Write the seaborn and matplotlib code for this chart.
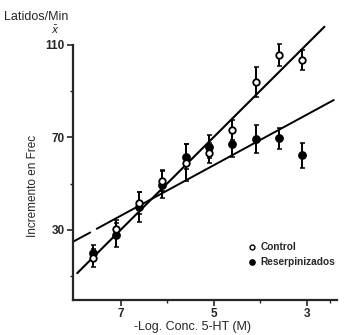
import numpy as np
import pandas as pd
import matplotlib
matplotlib.use("Agg")
import matplotlib.pyplot as plt
from matplotlib.lines import Line2D
import seaborn as sns

sns.set_style("ticks")
plt.rcParams['font.family'] = ['Liberation Sans', 'DejaVu Sans']

# -log concentration of 5-HT (M)
log_conc = [7.6, 7.1, 6.6, 6.1, 5.6, 5.1, 4.6, 4.1, 3.6, 3.1]

# mean increase in rate (beats/min) and error
control = [17.8, 30.3, 41.8, 51.3, 59.1, 63.2, 73.2, 94.1, 105.7, 103.5]
control_err = [4.0, 4.0, 4.8, 4.6, 8.0, 4.2, 4.4, 6.4, 4.8, 4.4]
reserp = [19.9, 27.8, 40.1, 49.5, 61.7, 66.0, 67.2, 69.2, 69.7, 62.4]
reserp_err = [3.5, 5.0, 6.5, 5.8, 5.5, 5.0, 5.5, 6.0, 4.6, 5.4]

# fitted lines (end points)
control_fit_x = [7.93, 2.62]
control_fit_y = [11.3, 117.9]
reserp_fit_x = [8.02, 7.65, np.nan, 7.51, 2.42]
reserp_fit_y = [24.9, 28.9, np.nan, 30.5, 86.2]

df = pd.DataFrame({
    "conc": log_conc * 2,
    "val": control + reserp,
    "err": control_err + reserp_err,
    "grupo": ["Control"] * len(log_conc) + ["Reserpinizados"] * len(log_conc),
})

fig = plt.figure(figsize=(3.47, 3.35), dpi=100)
ax = fig.add_axes([0.2104, 0.1045, 0.7608, 0.7612])

# fit lines
ax.plot(control_fit_x, control_fit_y, color="black", lw=1.5, clip_on=False, zorder=2)
ax.plot(reserp_fit_x, reserp_fit_y, color="black", lw=1.4, clip_on=False, zorder=2)

# error bars
for g, sub in df.groupby("grupo"):
    ax.errorbar(sub["conc"], sub["val"], yerr=sub["err"], fmt="none",
                ecolor="black", elinewidth=1.4, capsize=1.8, capthick=1.1,
                clip_on=False, zorder=3)

# points
sns.scatterplot(data=df[df.grupo == "Reserpinizados"], x="conc", y="val",
                color="black", edgecolor="black", s=28, linewidth=1.0,
                ax=ax, zorder=4, clip_on=False, legend=False)
sns.scatterplot(data=df[df.grupo == "Control"], x="conc", y="val",
                color="white", edgecolor="black", s=22, linewidth=1.3,
                ax=ax, zorder=5, clip_on=False, legend=False)

ax.set_xlim(8.02, 2.35)
ax.set_ylim(-0.3, 110)
ax.set_xticks([7, 5, 3])
ax.set_xticks([6, 4, 2.5], minor=True)
ax.set_yticks([30, 70, 110])
ax.set_yticks([10, 50, 90], minor=True)
ax.set_xlabel("")
ax.set_ylabel("")
sns.despine(ax=ax)
for s in ["left", "bottom"]:
    ax.spines[s].set_linewidth(1.6)
ax.tick_params(which="major", length=4, width=1.2, labelsize=8.5, pad=2)
ax.tick_params(which="minor", length=2, width=1.0)
ax.tick_params(axis="x", labelsize=8.5)
for lab in ax.get_xticklabels() + ax.get_yticklabels():
    lab.set_fontweight("bold")

# legend
handles = [
    Line2D([], [], ls="none", marker="o", ms=3.5, mfc="white", mec="black", mew=1.0),
    Line2D([], [], ls="none", marker="o", ms=3.8, mfc="black", mec="black"),
]
ax.legend(handles, ["Control", "Reserpinizados"], loc="center left",
          bbox_to_anchor=(0.663, 0.178), frameon=False, handlelength=0.7,
          handletextpad=0.5, borderpad=0, borderaxespad=0, labelspacing=0.5,
          prop={"size": 7.3, "weight": "bold"})

W, H = 347, 335
fig.text(4 / W, 1 - 17 / H, "Latidos/Min", fontsize=9, va="center", ha="left")
fig.text(55 / W, 1 - 30 / H, r"$\bar{x}$", fontsize=7.5, va="center", ha="center")
fig.text(33 / W, 1 - 186 / H, "Incremento en Frec", fontsize=8.5, rotation=90,
         va="center", ha="center")
fig.text(192 / W, 1 - 327 / H, "-Log. Conc. 5-HT (M)", fontsize=9,
         va="center", ha="center")

fig.savefig("out.png", dpi=100)
